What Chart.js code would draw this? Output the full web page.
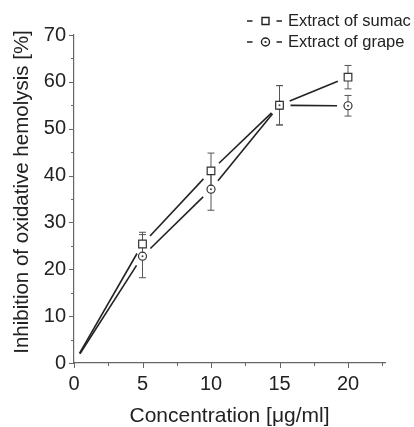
<!DOCTYPE html>
<html>
<head>
<meta charset="utf-8">
<script src="https://cdn.jsdelivr.net/npm/chart.js@4.4.0/dist/chart.umd.min.js"></script>
<style>
  html, body { margin: 0; padding: 0; background: #fff; }
  #wrap { width: 414px; height: 427px; }
</style>
</head>
<body>
<div id="wrap"><canvas id="chart"></canvas></div>
<script>
// data
const concentration = [0, 5, 10, 15, 20];
const sumac = [0, 25.4, 41.0, 55.0, 61.0];
const sumacErr = [0, 2.5, 3.8, 4.2, 2.5];
const grape = [0, 22.8, 37.1, 55.0, 54.9];
const grapeErr = [0, 4.6, 4.5, 4.2, 2.2];
const xTicks = [0, 2.5, 5, 7.5, 10, 12.5, 15, 17.5, 20, 22.5];
const yTicks = [0, 5, 10, 15, 20, 25, 30, 35, 40, 45, 50, 55, 60, 65, 70];
const yTitle = 'Inhibition of oxidative hemolysis [%]';

const ink = '#222';
const axisColor = '#666';
const font = 'Liberation Sans, Arial, sans-serif';

// lines with gaps at the markers + error bars
const decor = {
    id: 'decor',
    beforeDatasetsDraw(chart) {
        const ctx = chart.ctx;
        const x = chart.scales.x, y = chart.scales.y;
        const gap = 11;
        ctx.save();
        chart.data.datasets.forEach(ds => {
            const pts = ds.data.map(p => [x.getPixelForValue(p.x), y.getPixelForValue(p.y)]);
            ctx.strokeStyle = ink;
            ctx.lineWidth = 1.6;
            for (let i = 0; i < pts.length - 1; i++) {
                const [x0, y0] = pts[i], [x1, y1] = pts[i + 1];
                const len = Math.hypot(x1 - x0, y1 - y0);
                const ux = (x1 - x0) / len, uy = (y1 - y0) / len;
                ctx.beginPath();
                ctx.moveTo(x0 + ux * gap, y0 + uy * gap);
                ctx.lineTo(x1 - ux * gap, y1 - uy * gap);
                ctx.stroke();
            }
            ctx.strokeStyle = '#555';
            ctx.lineWidth = 1;
            ds.err.forEach((e, i) => {
                if (!e) return;
                const px = pts[i][0];
                const top = y.getPixelForValue(ds.data[i].y + e);
                const bot = y.getPixelForValue(ds.data[i].y - e);
                ctx.beginPath();
                ctx.moveTo(px, top); ctx.lineTo(px, bot);
                ctx.moveTo(px - 3.5, top); ctx.lineTo(px + 3.5, top);
                ctx.moveTo(px - 3.5, bot); ctx.lineTo(px + 3.5, bot);
                ctx.stroke();
            });
        });
        ctx.restore();
    },
    afterDatasetsDraw(chart) {
        // centre dot of the grape markers
        const ctx = chart.ctx;
        const meta = chart.getDatasetMeta(1);
        ctx.save();
        ctx.fillStyle = '#444';
        meta.data.forEach((el, i) => {
            if (i === 0) return;
            ctx.beginPath();
            ctx.arc(el.x, el.y, 1, 0, Math.PI * 2);
            ctx.fill();
        });
        ctx.restore();
    },
    afterDraw(chart) {
        const ctx = chart.ctx;
        const x = chart.scales.x, y = chart.scales.y;
        ctx.save();
        // tick marks, outward
        ctx.strokeStyle = axisColor;
        ctx.lineWidth = 1;
        const yb = y.getPixelForValue(0), xl = x.getPixelForValue(0);
        xTicks.forEach(v => {
            const px = Math.round(x.getPixelForValue(v)) + 0.5;
            const l = v % 5 === 0 ? 5 : 3;
            ctx.beginPath(); ctx.moveTo(px, yb); ctx.lineTo(px, yb + l); ctx.stroke();
        });
        yTicks.forEach(v => {
            const py = Math.round(y.getPixelForValue(v)) + 0.5;
            const l = v % 10 === 0 ? 5 : 3;
            ctx.beginPath(); ctx.moveTo(xl, py); ctx.lineTo(xl - l, py); ctx.stroke();
        });
        // y axis title (sits a bit above the axis centre in the original)
        ctx.save();
        ctx.translate(22, 192);
        ctx.rotate(-Math.PI / 2);
        ctx.font = '20.5px ' + font;
        ctx.fillStyle = ink;
        ctx.textAlign = 'center';
        ctx.textBaseline = 'middle';
        ctx.fillText(yTitle, 0, 0);
        ctx.restore();
        // legend
        ctx.font = '16.5px ' + font;
        ctx.fillStyle = ink;
        ctx.textBaseline = 'middle';
        const rows = [['rect', 'Extract of sumac', 21], ['circle', 'Extract of grape', 42]];
        rows.forEach(([shape, label, cy]) => {
            ctx.fillText(label, 288, cy);
            ctx.strokeStyle = ink;
            ctx.lineWidth = 1.4;
            ctx.beginPath();
            ctx.moveTo(247, cy); ctx.lineTo(252.5, cy);
            ctx.moveTo(276.5, cy); ctx.lineTo(282, cy);
            ctx.stroke();
            ctx.beginPath();
            if (shape === 'rect') {
                ctx.rect(262, cy - 3.5, 7, 7);
                ctx.stroke();
            } else {
                ctx.arc(265.5, cy, 4, 0, Math.PI * 2);
                ctx.stroke();
                ctx.beginPath();
                ctx.arc(265.5, cy, 1.1, 0, Math.PI * 2);
                ctx.fill();
            }
        });
        ctx.restore();
    }
};

const toPoints = vals => concentration.map((c, i) => ({ x: c, y: vals[i] }));

new Chart(document.getElementById('chart'), {
    type: 'scatter',
    data: {
        datasets: [
            {
                label: 'Extract of sumac',
                data: toPoints(sumac),
                err: sumacErr,
                pointStyle: 'rect',
                pointRadius: ctx => ctx.dataIndex === 0 ? 0 : 5.4,
                pointBorderWidth: 1.2,
                pointBorderColor: '#333',
                pointBackgroundColor: '#fff',
                showLine: false
            },
            {
                label: 'Extract of grape',
                data: toPoints(grape),
                err: grapeErr,
                pointStyle: 'circle',
                pointRadius: ctx => ctx.dataIndex === 0 ? 0 : 4,
                pointBorderWidth: 1.2,
                pointBorderColor: '#333',
                pointBackgroundColor: '#fff',
                showLine: false
            }
        ]
    },
    options: {
        responsive: true,
        maintainAspectRatio: false,
        animation: false,
        layout: { padding: { top: 35, right: 29, left: 0, bottom: 0 } },
        plugins: { legend: { display: false }, tooltip: { enabled: false } },
        scales: {
            x: {
                type: 'linear',
                min: 0,
                max: 22.7,
                afterBuildTicks: s => { s.ticks = xTicks.map(v => ({ value: v })); },
                afterFit: s => { s.height = 64; },
                grid: { display: false, drawTicks: false },
                border: { display: true, color: axisColor, width: 1.2 },
                ticks: {
                    padding: 9,
                    autoSkip: false,
                    maxRotation: 0,
                    color: ink,
                    font: { family: font, size: 20 },
                    callback: v => v % 5 === 0 ? String(v) : ''
                },
                title: {
                    display: true,
                    text: 'Concentration [\u03bcg/ml]',
                    color: ink,
                    font: { family: font, size: 21 },
                    padding: { top: 0, bottom: -1.5 }
                }
            },
            y: {
                min: 0,
                max: 70,
                afterBuildTicks: s => { s.ticks = yTicks.map(v => ({ value: v })); },
                afterFit: s => { s.width = 74; },
                grid: { display: false, drawTicks: false },
                border: { display: true, color: axisColor, width: 1.2 },
                ticks: {
                    padding: 8,
                    autoSkip: false,
                    color: ink,
                    font: { family: font, size: 20 },
                    callback: v => v % 10 === 0 ? String(v) : ''
                }
            }
        }
    },
    plugins: [decor]
});
</script>
</body>
</html>
